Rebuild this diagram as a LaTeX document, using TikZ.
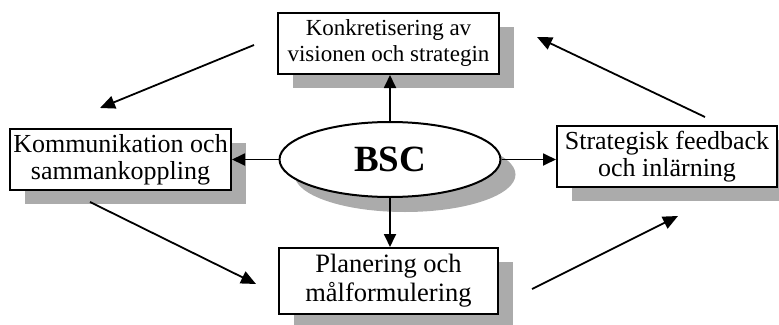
\documentclass[tikz,border=0pt]{standalone}
\usepackage{fontspec}
\setmainfont{Liberation Serif}
\usetikzlibrary{shapes.geometric,shadows,arrows.meta}

\tikzset{
  shadowfill/.style={fill=black!33},
  stepbox/.style={draw, line width=2pt, fill=white, align=center,
    inner sep=0pt, font=\fontsize{26}{27}\selectfont,
    drop shadow={shadow xshift=15pt, shadow yshift=-14pt, shadowfill, opacity=1}},
  link/.style={line width=1.8pt, -{Triangle[length=13pt,width=12pt]}},
  cycle/.style={line width=1.8pt, -{Triangle[length=15pt,width=13pt]}}
}

\begin{document}
\begin{tikzpicture}[x=1pt,y=-1pt]
  \clip (0,0) rectangle (779,324);
  \useasboundingbox (0,0) rectangle (779,324);

  % four phases around the scorecard
  \node[stepbox, minimum width=221pt, minimum height=61pt,
        font=\fontsize{23}{26}\selectfont] (vis) at (388.5,43.5)
    {Konkretisering av\\visionen och strategin};
  \node[stepbox, minimum width=221pt, minimum height=61pt] (kom) at (120.5,159.5)
    {Kommunikation och\\sammankoppling};
  \node[stepbox, minimum width=220pt, minimum height=61pt] (fee) at (667,156.5)
    {Strategisk feedback\\och inlärning};
  \node[stepbox, minimum width=219pt, minimum height=66pt,
        font=\fontsize{26.5}{29}\selectfont] (pla) at (388.5,281)
    {Planering och\\målformulering};

  % central ellipse with its shadow
  \fill[shadowfill] (405,174.5) ellipse [x radius=110.5pt, y radius=37.5pt];
  \node[ellipse, draw, line width=2pt, fill=white, inner sep=0pt,
        minimum width=221pt, minimum height=75pt,
        font=\fontsize{37}{40}\selectfont\bfseries] (bsc) at (390,159.5) {BSC};

  % links from the centre
  \draw[link] (bsc.north) -- (bsc.north |- vis.south);
  \draw[link] (bsc.south) -- (bsc.south |- pla.north);
  \draw[link] (bsc.west) -- (bsc.west -| kom.east);
  \draw[link] (bsc.east) -- (bsc.east -| fee.west);

  % the cycle between the phases
  \coordinate (c1s) at (254,45);  \coordinate (c1e) at (100,108);
  \coordinate (c2s) at (90,202);  \coordinate (c2e) at (256,284);
  \coordinate (c3s) at (532,289); \coordinate (c3e) at (678,216);
  \coordinate (c4s) at (705,117); \coordinate (c4e) at (537,37);
  \draw[cycle] (c1s) -- (c1e);
  \draw[cycle] (c2s) -- (c2e);
  \draw[cycle] (c3s) -- (c3e);
  \draw[cycle] (c4s) -- (c4e);
\end{tikzpicture}
\end{document}
